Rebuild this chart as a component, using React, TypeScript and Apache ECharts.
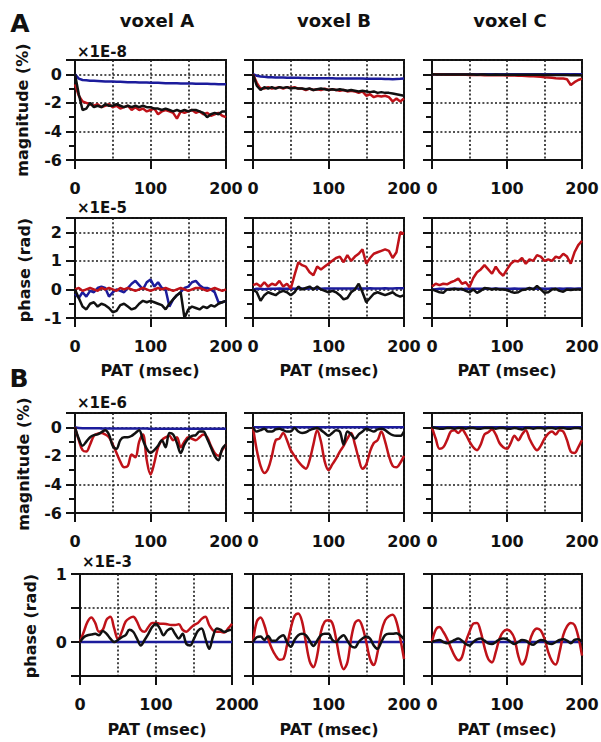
import React, { useEffect, useRef } from "react";
import * as echarts from "echarts";

// ---------- data ----------
const PAT_MS = [0, 5, 10, 15, 20, 25, 30, 35, 40, 45, 50, 55, 60, 65, 70, 75, 80, 85, 90, 95, 100, 105, 110, 115, 120, 125, 130, 135, 140, 145, 150, 155, 160, 165, 170, 175, 180, 185, 190, 195, 200];
const PAT_TICKS = [0, 100, 200];
const MAG_TICKS = [-6, -4, -2, 0];
const PHASE_A_TICKS = [-1, 0, 1, 2];
const PHASE_B_TICKS = [0, 1];

const FLAT_ZERO = [0, 0, 0, 0, 0, 0, 0, 0, 0, 0, 0, 0, 0, 0, 0, 0, 0, 0, 0, 0, 0, 0, 0, 0, 0, 0, 0, 0, 0, 0, 0, 0, 0, 0, 0, 0, 0, 0, 0, 0, 0];

// A: magnitude (x1E-8)
const AMAG_A_RED = [-0.7, -1.5, -1.9, -2.0, -2.1, -2.2, -2.1, -2.3, -2.2, -2.1, -2.3, -2.2, -2.4, -2.3, -2.2, -2.5, -2.3, -2.5, -2.4, -2.6, -2.5, -2.4, -2.8, -2.6, -2.5, -2.6, -2.7, -3.1, -2.6, -2.7, -2.6, -2.5, -2.7, -2.6, -2.8, -2.7, -2.9, -2.8, -2.7, -2.9, -3.0];
const AMAG_A_BLACK = [0, -1.4, -2.5, -2.4, -2.0, -2.3, -2.2, -2.3, -2.1, -2.2, -2.2, -2.1, -2.2, -2.3, -2.2, -2.3, -2.2, -2.3, -2.2, -2.3, -2.3, -2.4, -2.4, -2.5, -2.4, -2.5, -2.6, -2.5, -2.6, -2.5, -2.6, -2.5, -2.5, -2.6, -2.7, -3.0, -2.8, -2.7, -2.8, -2.6, -2.6];
const AMAG_A_BLUE = [0, -0.3, -0.4, -0.42, -0.45, -0.46, -0.47, -0.48, -0.5, -0.5, -0.5, -0.52, -0.53, -0.54, -0.55, -0.55, -0.56, -0.57, -0.57, -0.58, -0.6, -0.6, -0.6, -0.61, -0.62, -0.62, -0.63, -0.63, -0.64, -0.64, -0.65, -0.65, -0.66, -0.66, -0.67, -0.67, -0.68, -0.68, -0.69, -0.7, -0.7];
const AMAG_B_RED = [0, -0.6, -1.0, -1.0, -0.9, -1.0, -0.95, -0.9, -1.0, -0.9, -0.95, -0.9, -1.0, -1.0, -1.1, -1.0, -1.1, -1.05, -1.1, -1.0, -1.1, -1.05, -1.1, -1.15, -1.1, -1.2, -1.15, -1.2, -1.3, -1.2, -1.5, -1.4, -1.6, -1.5, -1.55, -1.5, -1.6, -1.9, -1.7, -1.9, -1.7];
const AMAG_B_BLACK = [0, -0.8, -1.1, -0.9, -1.0, -0.9, -1.0, -0.9, -0.95, -0.9, -1.0, -0.95, -1.0, -1.0, -1.05, -1.0, -1.1, -1.05, -1.0, -1.05, -1.1, -1.05, -1.1, -1.05, -1.1, -1.15, -1.1, -1.15, -1.2, -1.15, -1.2, -1.25, -1.2, -1.3, -1.25, -1.3, -1.3, -1.35, -1.4, -1.45, -1.5];
const AMAG_B_BLUE = [0, -0.1, -0.15, -0.18, -0.2, -0.2, -0.22, -0.22, -0.23, -0.24, -0.25, -0.25, -0.25, -0.26, -0.26, -0.27, -0.27, -0.27, -0.28, -0.28, -0.28, -0.28, -0.29, -0.29, -0.29, -0.3, -0.3, -0.3, -0.3, -0.3, -0.31, -0.31, -0.31, -0.32, -0.32, -0.33, -0.33, -0.34, -0.33, -0.32, -0.3];
const AMAG_C_RED = [0, 0, -0.02, -0.02, -0.03, -0.03, -0.03, -0.04, -0.04, -0.04, -0.05, -0.05, -0.05, -0.05, -0.06, -0.06, -0.06, -0.06, -0.07, -0.07, -0.08, -0.08, -0.09, -0.1, -0.11, -0.12, -0.13, -0.14, -0.15, -0.17, -0.2, -0.22, -0.25, -0.28, -0.3, -0.3, -0.35, -0.75, -0.55, -0.4, -0.3];
const AMAG_C_BLACK = [0, -0.01, -0.01, -0.02, -0.01, -0.02, -0.02, -0.01, -0.02, -0.02, -0.02, -0.02, -0.03, -0.02, -0.02, -0.03, -0.03, -0.02, -0.03, -0.03, -0.03, -0.03, -0.03, -0.04, -0.03, -0.04, -0.04, -0.04, -0.04, -0.04, -0.05, -0.04, -0.05, -0.05, -0.05, -0.05, -0.05, -0.06, -0.05, -0.06, -0.06];

// A: phase (x1E-5)
const APH_A_RED = [0, 0.05, -0.05, 0, 0.05, 0, -0.05, 0.05, 0, 0.05, 0, -0.05, 0.05, 0, 0.05, 0, -0.05, 0, 0.05, 0, -0.05, 0, 0.05, 0, 0.05, 0, -0.05, 0, 0.05, 0, -0.05, 0, 0.05, 0.05, 0, -0.05, 0, 0.05, 0, -0.05, 0];
const APH_A_BLACK = [0, -0.3, -0.6, -0.7, -0.5, -0.45, -0.6, -0.5, -0.55, -0.65, -0.8, -0.75, -0.55, -0.5, -0.6, -0.7, -0.65, -0.5, -0.4, -0.45, -0.4, -0.45, -0.5, -0.55, -0.7, -0.5, -0.35, -0.2, -0.1, -1.0, -0.7, -0.6, -0.65, -0.7, -0.6, -0.65, -0.55, -0.6, -0.5, -0.45, -0.4];
const APH_A_BLUE = [-0.15, -0.3, -0.1, -0.25, -0.05, -0.1, 0.05, 0.1, 0.05, -0.25, -0.1, 0.0, -0.05, -0.1, 0.05, 0.2, 0.3, 0.15, 0.0, 0.25, 0.35, 0.1, 0.25, 0.05, 0.0, -0.6, -0.35, -0.2, -0.1, 0.05, 0.1, 0.25, 0.3, 0.15, 0.05, 0.05, 0.0, -0.1, -0.45, -0.45, -0.4];
const APH_B_RED = [0.15, 0.2, 0.1, 0.25, 0.1, 0.2, 0.15, 0.3, 0.1, 0.2, 0.03, 0.5, 0.95, 0.85, 0.8, 0.6, 0.5, 0.8, 0.7, 0.8, 0.9, 1.0, 1.1, 1.15, 0.95, 1.2, 1.0, 1.15, 1.25, 1.4, 0.9, 1.1, 1.25, 1.3, 1.35, 1.4, 1.35, 1.1, 1.3, 2.0, 1.95];
const APH_B_BLACK = [0, -0.1, -0.4, -0.2, -0.1, -0.15, -0.2, -0.1, -0.05, -0.1, -0.2, -0.1, 0.1, 0.0, 0.05, 0.1, 0.0, 0.1, 0.0, -0.05, -0.1, -0.05, -0.1, -0.2, -0.35, -0.3, -0.1, 0.0, 0.2, -0.1, -0.45, -0.3, -0.15, -0.1, -0.15, -0.2, -0.15, -0.1, -0.2, -0.25, -0.2];
const APH_B_BLUE = [0, 0.02, 0.02, 0.01, 0.02, 0.02, 0.02, 0.03, 0.02, 0.02, 0.03, 0.02, 0.03, 0.03, 0.02, 0.03, 0.03, 0.03, 0.02, 0.03, 0.03, 0.03, 0.03, 0.03, 0.03, 0.03, 0.03, 0.03, 0.03, 0.03, 0.03, 0.04, 0.03, 0.03, 0.03, 0.04, 0.03, 0.03, 0.04, 0.04, 0.04];
const APH_C_RED = [0.1, 0.2, 0.15, 0.2, 0.18, 0.25, 0.3, 0.38, 0.2, 0.25, 0.08, 0.4, 0.6, 0.7, 0.85, 0.7, 0.55, 0.8, 0.6, 0.48, 0.7, 0.9, 1.0, 0.98, 1.1, 0.9, 1.05, 1.0, 1.2, 1.15, 1.0, 1.05, 1.0, 1.15, 1.1, 1.25, 1.15, 0.9, 1.3, 1.55, 1.7];
const APH_C_BLACK = [0, -0.05, -0.1, -0.12, 0, 0, 0.02, 0, 0.02, -0.05, -0.1, 0, -0.12, -0.05, 0.05, 0.03, 0, 0.02, 0, 0, -0.02, -0.08, -0.12, -0.1, -0.02, 0, 0.05, 0, 0.12, 0, -0.12, -0.1, 0, 0.02, -0.05, -0.08, 0, -0.02, 0, 0, 0];
const APH_C_BLUE = [0, 0.01, 0.02, 0.02, 0.01, 0.02, 0.02, 0.02, 0.01, 0.02, 0.02, 0.02, 0.02, 0.02, 0.02, 0.02, 0.02, 0.03, 0.02, 0.02, 0.02, 0.02, 0.03, 0.02, 0.02, 0.02, 0.03, 0.02, 0.02, 0.03, 0.02, 0.02, 0.03, 0.02, 0.03, 0.02, 0.03, 0.03, 0.02, 0.03, 0.03];

// B: magnitude (x1E-6)
const BMAG_A_RED = [0, -0.9, -1.6, -1.7, -1.2, -0.6, -0.45, -0.4, -0.5, -0.7, -1.2, -1.8, -2.4, -2.8, -2.7, -1.9, -2.1, -1.0, -0.5, -2.3, -3.3, -2.5, -1.4, -0.9, -0.7, -0.6, -0.9, -0.7, -1.4, -1.0, -0.7, -0.8, -0.9, -0.7, -0.5, -0.7, -1.3, -1.8, -2.0, -1.6, -1.2];
const BMAG_A_BLACK = [0, -0.8, -1.3, -1.0, -0.7, -0.55, -0.5, -0.35, -0.2, -0.5, -1.3, -1.5, -0.9, -0.7, -0.7, -0.6, -0.4, -0.2, -0.9, -1.5, -1.8, -1.6, -1.3, -0.9, -1.4, -0.4, -0.5, -1.1, -1.8, -1.2, -0.8, -0.6, -0.55, -0.3, -0.3, -0.8, -1.4, -2.0, -2.3, -1.5, -1.2];
const BMAG_A_BLUE = [0, -0.05, -0.06, -0.06, -0.07, -0.07, -0.07, -0.08, -0.08, -0.08, -0.08, -0.08, -0.08, -0.09, -0.09, -0.09, -0.09, -0.09, -0.09, -0.09, -0.1, -0.1, -0.1, -0.1, -0.1, -0.1, -0.1, -0.1, -0.1, -0.1, -0.1, -0.1, -0.1, -0.1, -0.1, -0.1, -0.1, -0.1, -0.1, -0.1, -0.1];
const BMAG_B_RED = [0, -1.6, -2.7, -3.2, -2.9, -2.0, -0.9, -0.8, -0.4, -0.9, -1.6, -2.0, -2.4, -2.7, -2.9, -2.3, -1.2, -0.2, -1.0, -2.4, -3.0, -2.6, -2.2, -1.7, -1.3, -0.8, -0.4, -1.2, -2.2, -2.9, -2.6, -1.7, -1.1, -0.9, -0.3, -1.0, -2.0, -2.7, -2.8, -2.5, -2.0];
const BMAG_B_BLACK = [0, -0.3, -0.2, -0.1, -0.3, -0.3, -0.15, -0.1, -0.2, -0.3, -0.3, -0.05, -0.3, -0.4, -0.35, -0.2, -0.1, -0.05, -0.2, -0.4, -0.6, -0.4, -0.2, -0.3, -1.2, -0.3, -0.5, -0.8, -0.5, -0.3, -0.1, -0.2, -0.3, -0.15, -0.1, -0.2, -0.4, -0.55, -0.6, -0.6, -0.3];
const BMAG_C_RED = [0, -0.8, -1.5, -1.4, -0.9, -0.3, -0.2, -0.4, -0.15, -0.5, -1.0, -1.4, -1.6, -1.2, -0.5, -0.35, -0.15, -0.5, -1.1, -1.4, -1.5, -1.1, -0.6, -0.9, -0.5, -0.2, -0.8, -1.3, -1.6, -1.3, -0.8, -0.45, -0.3, -0.5, -0.2, -0.3, -0.9, -1.7, -1.8, -1.4, -0.9];
const BMAG_C_BLACK = [0, -0.05, -0.1, -0.1, -0.05, -0.05, -0.1, -0.05, -0.05, -0.1, -0.05, -0.05, -0.1, -0.1, -0.05, -0.05, -0.05, -0.1, -0.05, -0.05, -0.1, -0.1, -0.05, -0.1, -0.15, -0.05, -0.05, -0.1, -0.05, -0.05, -0.1, -0.05, -0.05, -0.1, -0.05, -0.05, -0.1, -0.1, -0.05, -0.05, -0.1];

// B: phase (x1E-3)
const BPH_A_RED = [0, 0.15, 0.3, 0.36, 0.28, 0.15, 0.18, 0.33, 0.37, 0.2, 0.04, 0.15, 0.3, 0.35, 0.37, 0.3, 0.18, 0.15, 0.22, 0.28, 0.28, 0.27, 0.27, 0.26, 0.25, 0.25, 0.26, 0.18, 0.15, 0.2, 0.25, 0.28, 0.34, 0.37, 0.25, 0.17, 0.15, 0.15, 0.14, 0.2, 0.27];
const BPH_A_BLACK = [0, 0.07, 0.1, 0.11, 0.12, 0.1, 0.16, 0.12, 0.05, 0.0, 0.03, 0.07, 0.1, 0.18, 0.15, 0.05, -0.05, 0.03, 0.12, 0.22, 0.27, 0.2, 0.1, 0.17, 0.2, 0.12, 0.05, 0.12, -0.03, -0.05, 0.05, 0.16, 0.2, 0.05, -0.1, 0.08, 0.2, 0.18, 0.15, 0.17, 0.18];
const BPH_B_RED = [0, 0.3, 0.36, 0.25, 0.05, -0.1, -0.2, -0.26, -0.25, -0.05, 0.2, 0.38, 0.42, 0.3, 0.0, -0.28, -0.37, -0.2, 0.15, 0.3, 0.32, 0.28, 0.05, -0.25, -0.4, -0.3, 0.05, 0.28, 0.32, 0.22, 0.0, -0.25, -0.34, -0.15, 0.15, 0.32, 0.38, 0.4, 0.3, 0.05, -0.25];
const BPH_B_BLACK = [0, 0.07, 0.08, 0.03, 0.09, 0.02, 0.02, 0.07, 0.1, 0.0, -0.07, 0.03, 0.1, 0.12, 0.1, 0.02, -0.06, 0.02, 0.1, 0.12, 0.12, 0.03, 0.0, 0.06, 0.1, 0.02, -0.06, -0.08, 0.0, 0.05, 0.08, 0.05, -0.05, -0.1, 0.0, 0.1, 0.12, 0.12, 0.13, 0.1, 0.04];
const BPH_C_RED = [0, 0.18, 0.22, 0.15, 0.05, -0.08, -0.2, -0.27, -0.22, 0.0, 0.15, 0.27, 0.28, 0.15, -0.08, -0.25, -0.3, -0.15, 0.05, 0.15, 0.18, 0.15, 0.05, -0.2, -0.33, -0.25, 0.0, 0.15, 0.2, 0.17, 0.05, -0.15, -0.28, -0.33, -0.15, 0.1, 0.23, 0.28, 0.25, 0.08, -0.2];
const BPH_C_BLACK = [0, 0.02, 0.03, 0.0, -0.02, 0.0, 0.03, 0.05, 0.02, -0.03, -0.05, 0.0, 0.04, 0.05, 0.02, -0.02, -0.03, 0.0, 0.04, 0.05, 0.04, 0.0, -0.03, 0.0, 0.03, 0.02, -0.02, -0.04, 0.0, 0.03, 0.02, -0.02, -0.03, 0.0, 0.03, 0.04, 0.02, -0.02, 0.03, 0.04, 0.0];

// ---------- style ----------
const FONT = '"DejaVu Sans", "Liberation Sans", sans-serif';
const INK = "#111111";
const RED = "#bf1219";
const BLACK = "#111111";
const BLUE = "#1c1c9c";

const COLS = [
  { left: 75, width: 151 },
  { left: 253, width: 151 },
  { left: 432, width: 150 },
];
const ROWS = [
  { top: 60, height: 100 },
  { top: 218, height: 100 },
  { top: 413, height: 100 },
  { top: 574, height: 102 },
];

const Y_SPECS = [
  { min: -6, max: 1, interval: 2, minor: true, labels: MAG_TICKS },
  { min: -1, max: 2.5, interval: 1, minor: true, labels: PHASE_A_TICKS },
  { min: -6, max: 1, interval: 2, minor: true, labels: MAG_TICKS },
  { min: -0.5, max: 1, interval: 0.5, minor: false, labels: PHASE_B_TICKS },
];

const PANELS = [
  [
    { red: AMAG_A_RED, black: AMAG_A_BLACK, blue: AMAG_A_BLUE },
    { red: AMAG_B_RED, black: AMAG_B_BLACK, blue: AMAG_B_BLUE },
    { red: AMAG_C_RED, black: AMAG_C_BLACK, blue: FLAT_ZERO },
  ],
  [
    { red: APH_A_RED, black: APH_A_BLACK, blue: APH_A_BLUE },
    { red: APH_B_RED, black: APH_B_BLACK, blue: APH_B_BLUE },
    { red: APH_C_RED, black: APH_C_BLACK, blue: APH_C_BLUE },
  ],
  [
    { red: BMAG_A_RED, black: BMAG_A_BLACK, blue: BMAG_A_BLUE },
    { red: BMAG_B_RED, black: BMAG_B_BLACK, blue: FLAT_ZERO },
    { red: BMAG_C_RED, black: BMAG_C_BLACK, blue: FLAT_ZERO },
  ],
  [
    { red: BPH_A_RED, black: BPH_A_BLACK, blue: FLAT_ZERO },
    { red: BPH_B_RED, black: BPH_B_BLACK, blue: FLAT_ZERO },
    { red: BPH_C_RED, black: BPH_C_BLACK, blue: FLAT_ZERO },
  ],
];

const DOT = { type: [2, 2.2] as any, color: "#1a1a1a", width: 1.6 };

function labelFormatter(allowed: number[]) {
  return (v: number) => (allowed.some((a) => Math.abs(a - v) < 1e-9) ? String(v) : "");
}

function buildOption() {
  const grid: any[] = [];
  const xAxis: any[] = [];
  const yAxis: any[] = [];
  const series: any[] = [];
  const tickLabel = { color: INK, fontFamily: FONT, fontSize: 16, fontWeight: "bold" };

  ROWS.forEach((row, r) => {
    COLS.forEach((col, c) => {
      const idx = grid.length;
      let left = col.left;
      let width = col.width;
      if (r === 3 && c === 0) {
        left = 80;
        width = 152;
      }
      grid.push({
        left,
        top: row.top,
        width,
        height: row.height,
        show: true,
        borderColor: INK,
        borderWidth: 2,
        backgroundColor: "transparent",
        containLabel: false,
        outerBoundsMode: "none",
      });
      xAxis.push({
        gridIndex: idx,
        type: "value",
        min: 0,
        max: 200,
        interval: 100,
        axisLine: { show: true, onZero: false, lineStyle: { color: INK, width: 2 } },
        axisTick: { show: true, length: 9, lineStyle: { color: INK, width: 2 } },
        minorTick: { show: false, splitNumber: 2 },
        minorSplitLine: { show: true, lineStyle: DOT },
        splitLine: { show: true, lineStyle: DOT },
        axisLabel: { ...tickLabel, margin: 20, formatter: labelFormatter(PAT_TICKS) },
      });
      const ys = Y_SPECS[r];
      yAxis.push({
        gridIndex: idx,
        type: "value",
        min: ys.min,
        max: ys.max,
        interval: ys.interval,
        axisLine: { show: true, onZero: false, lineStyle: { color: INK, width: 2 } },
        axisTick: { show: true, length: 9, lineStyle: { color: INK, width: 2 } },
        minorTick: { show: ys.minor, splitNumber: 2, length: 6, lineStyle: { color: INK, width: 2 } },
        splitLine: { show: true, lineStyle: DOT },
        axisLabel: { ...tickLabel, show: c === 0, margin: 13, formatter: labelFormatter(ys.labels) },
      });
      const p = PANELS[r][c];
      const smooth = r >= 2 ? 0.35 : false;
      const mk = (name: string, vals: number[], color: string) => ({
        name,
        type: "line",
        xAxisIndex: idx,
        yAxisIndex: idx,
        data: PAT_MS.map((x, i) => [x, vals[i]]),
        showSymbol: false,
        symbol: "none",
        smooth,
        silent: true,
        lineStyle: { color, width: 2.5 },
        itemStyle: { color },
      });
      series.push(mk("blue", p.blue, BLUE));
      series.push(mk("red", p.red, RED));
      series.push(mk("black", p.black, BLACK));
    });
  });

  const txt = (text: string, x: number, y: number, size: number, extra: any = {}) => {
    const { align, ...rest } = extra;
    return {
      type: "text",
      x,
      y,
      silent: true,
      ...rest,
      style: {
        text,
        fontFamily: FONT,
        fontSize: size,
        fontWeight: "bold",
        fill: INK,
        align: align || "center",
        verticalAlign: "middle",
      },
    };
  };

  const graphic = [
    txt("A", 20, 23, 25),
    txt("B", 19, 378, 25),
    txt("voxel A", 157, 20, 18),
    txt("voxel B", 334, 20, 18),
    txt("voxel C", 510, 20, 18),
    txt("×1E-8", 77, 52, 15, { align: "left" }),
    txt("×1E-5", 77, 208, 15, { align: "left" }),
    txt("×1E-6", 77, 403, 15, { align: "left" }),
    txt("×1E-3", 82, 562, 15, { align: "left" }),
    txt("magnitude (%)", 22, 110, 16, { rotation: Math.PI / 2 }),
    txt("phase (rad)", 24, 270, 16, { rotation: Math.PI / 2 }),
    txt("magnitude (%)", 23, 464, 16, { rotation: Math.PI / 2 }),
    txt("phase (rad)", 30, 626, 16, { rotation: Math.PI / 2 }),
    txt("PAT (msec)", 150, 370, 16),
    txt("PAT (msec)", 329, 370, 16),
    txt("PAT (msec)", 507, 370, 16),
    txt("PAT (msec)", 157, 729, 16),
    txt("PAT (msec)", 329, 729, 16),
    txt("PAT (msec)", 507, 729, 16),
  ];

  return {
    animation: false,
    backgroundColor: "#ffffff",
    grid,
    xAxis,
    yAxis,
    series,
    graphic,
  };
}

export default function App() {
  const ref = useRef<HTMLDivElement>(null);
  useEffect(() => {
    document.body.style.margin = "0";
    document.body.style.overflow = "hidden";
    if (!ref.current) return;
    const chart = echarts.init(ref.current, undefined, { renderer: "svg" });
    chart.setOption(buildOption() as any);
    return () => chart.dispose();
  }, []);
  return <div ref={ref} style={{ width: 601, height: 742, background: "#fff" }} />;
}
